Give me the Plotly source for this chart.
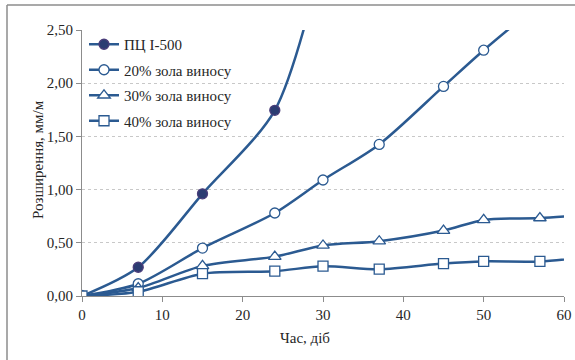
import plotly.graph_objects as go

days_pc = [0, 7, 15, 24, 30]
pc_i500 = [0.0, 0.27, 0.96, 1.745, 3.2]

days_20 = [0, 7, 15, 24, 30, 37, 45, 50, 57]
ash20 = [0.0, 0.115, 0.45, 0.78, 1.09, 1.425, 1.97, 2.31, 2.75]

days_30 = [0, 7, 15, 24, 30, 37, 45, 50, 57, 64]
ash30 = [0.0, 0.075, 0.283, 0.37, 0.475, 0.515, 0.615, 0.715, 0.733, 0.77]

days_40 = [0, 7, 15, 24, 30, 37, 45, 50, 57, 64]
ash40 = [0.0, 0.04, 0.21, 0.233, 0.28, 0.252, 0.305, 0.325, 0.325, 0.375]

names = ["ПЦ І-500", "20% зола виносу", "30% зола виносу", "40% зола виносу"]

LINE = "#2b5a91"
TXT = "#262626"
GRID = "#c8c8c8"
AX = "#8c8c8c"

series = [
    (days_pc, pc_i500, "circle", "#2b3c72", "#4a3d7a"),
    (days_20, ash20, "circle", "white", LINE),
    (days_30, ash30, "triangle-up", "white", LINE),
    (days_40, ash40, "square", "white", LINE),
]

fig = go.Figure()
for i, ((x, y, sym, fill, edge), nm) in enumerate(zip(series, names)):
    fig.add_trace(go.Scatter(
        x=x, y=y, name=nm, mode="lines+markers",
        line=dict(color=LINE, width=2.5, shape="spline", smoothing=0.8),
        marker=dict(symbol=sym, size=10 if sym != "triangle-up" else 11,
                    color=fill, line=dict(color=edge, width=1.3)),
        legendgroup=f"g{i}",
        cliponaxis=True,
    ))

W, H = 575, 360
L, R, T, B = 82, 11, 30, 64
pw = W - L - R
ph = H - T - B

def px(xp):
    return (xp - L) / pw

def py(yp):
    return (H - B - yp) / ph

serif = "Liberation Serif, Times New Roman, serif"
FS = 15

fig.update_layout(
    width=W, height=H,
    margin=dict(l=L, r=R, t=T, b=B, autoexpand=False),
    paper_bgcolor="white", plot_bgcolor="white",
    separators=", ",
    font=dict(family=serif, size=FS, color=TXT),
    showlegend=True,
    legend=dict(
        x=px(84), y=py(28), xanchor="left", yanchor="top",
        bgcolor="rgba(0,0,0,0)", font=dict(family=serif, size=FS, color=TXT),
        traceorder="grouped", tracegroupgap=3, itemwidth=30,
    ),
    xaxis=dict(
        range=[0, 60], dtick=10, tick0=0, showgrid=False, zeroline=False,
        showline=True, linecolor=AX, linewidth=1, automargin=False,
        ticks="outside", ticklen=5, tickcolor=AX,
        tickfont=dict(family=serif, size=FS, color=TXT),
    ),
    yaxis=dict(
        range=[0, 2.5], dtick=0.5, tick0=0, tickformat=".2f",
        showgrid=True, gridcolor=GRID, griddash="dot", gridwidth=1,
        zeroline=False, showline=True, linecolor=AX, linewidth=1, automargin=False,
        ticks="outside", ticklen=5, tickcolor=AX,
        tickfont=dict(family=serif, size=FS, color=TXT),
    ),
    annotations=[
        dict(text="Час, діб", x=px(305), y=py(338), xref="paper", yref="paper",
             showarrow=False, font=dict(family=serif, size=FS, color=TXT),
             xanchor="center", yanchor="middle"),
        dict(text="Розширення, мм/м", x=px(38), y=py(160), xref="paper", yref="paper",
             showarrow=False, textangle=-90, font=dict(family=serif, size=FS, color=TXT),
             xanchor="center", yanchor="middle"),
    ],
    shapes=[
        dict(type="line", xref="paper", yref="paper", x0=px(7), x1=px(590),
             y0=py(5), y1=py(5), line=dict(color=AX, width=1.5)),
        dict(type="line", xref="paper", yref="paper", x0=px(7), x1=px(7),
             y0=py(5), y1=py(380), line=dict(color=AX, width=1.5)),
    ],
)

fig.write_html("out.html", config={"displayModeBar": False},
               post_script="document.body.style.margin='0';")
